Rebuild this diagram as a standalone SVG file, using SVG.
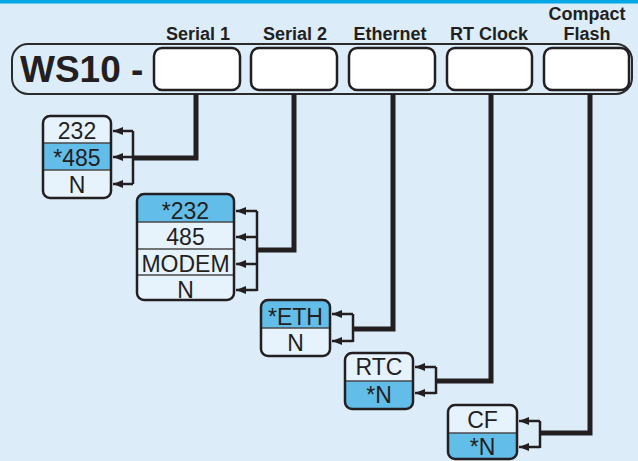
<svg xmlns="http://www.w3.org/2000/svg" width="638" height="461" viewBox="0 0 638 461">
<style>
.hdr{font-family:"Liberation Sans",Arial,sans-serif;font-weight:bold;font-size:18px;fill:#231f20;text-anchor:middle}
.opt{font-family:"Liberation Sans",Arial,sans-serif;font-size:23px;fill:#231f20;text-anchor:middle}
.slot{fill:#ffffff;stroke:#231f20;stroke-width:2.5}
.box{fill:none;stroke:#231f20;stroke-width:2.5}
.row{fill:#e6f3fc}
.hi{fill:#62bde9}
.sep{stroke:#4a4a4a;stroke-width:1.5}
.thick{fill:none;stroke:#231f20;stroke-width:5;stroke-linejoin:miter}
.thin{fill:none;stroke:#231f20;stroke-width:2.5}
</style>
<defs>
<marker id="ah" viewBox="0 0 10 8" refX="10" refY="4" markerWidth="10" markerHeight="8" markerUnits="userSpaceOnUse" orient="auto">
<path d="M0 0 L10 4 L0 8 Z" fill="#231f20"/>
</marker>
<clipPath id="c1"><rect x="43" y="116" width="68" height="82" rx="7"/></clipPath>
<clipPath id="c2"><rect x="137" y="194" width="97" height="106" rx="7"/></clipPath>
<clipPath id="c3"><rect x="261" y="300" width="69" height="56" rx="7"/></clipPath>
<clipPath id="c4"><rect x="345" y="353" width="68" height="56" rx="7"/></clipPath>
<clipPath id="c5"><rect x="448" y="405" width="69" height="54" rx="7"/></clipPath>
</defs>
<rect width="638" height="461" fill="#dcedf9"/>
<rect width="638" height="3.5" fill="#00a6e6"/>

<g id="model">
<rect x="12" y="44" width="620" height="50" rx="16" fill="#dcedf9" stroke="#2a2a2a" stroke-width="2"/>
<text x="20" y="82" font-family="'Liberation Sans',Arial,sans-serif" font-weight="bold" font-size="37" fill="#231f20">WS10 -</text>
</g>
<g id="slot-serial1">
<text class="hdr" x="198" y="40">Serial 1</text>
<rect class="slot" x="154" y="48" width="86" height="42" rx="8"/>
</g>
<g id="slot-serial2">
<text class="hdr" x="295" y="40">Serial 2</text>
<rect class="slot" x="251" y="48" width="86" height="42" rx="8"/>
</g>
<g id="slot-ethernet">
<text class="hdr" x="390" y="40">Ethernet</text>
<rect class="slot" x="349" y="48" width="86" height="42" rx="8"/>
</g>
<g id="slot-rtclock">
<text class="hdr" x="489" y="40">RT Clock</text>
<rect class="slot" x="447" y="48" width="85" height="42" rx="8"/>
</g>
<g id="slot-cf">
<text class="hdr" x="587" y="20">Compact</text>
<text class="hdr" x="587" y="40">Flash</text>
<rect class="slot" x="544" y="48" width="85" height="42" rx="8"/>
</g>

<g id="opt-serial1">
<g clip-path="url(#c1)">
<rect class="row" x="43" y="116" width="68" height="82"/>
<rect class="hi" x="43" y="143" width="68" height="27"/>
</g>
<line class="sep" x1="43" y1="143" x2="111" y2="143"/>
<line class="sep" x1="43" y1="170" x2="111" y2="170"/>
<rect class="box" x="43" y="116" width="68" height="82" rx="7"/>
<text class="opt" x="77" y="139">232</text>
<text class="opt" x="77" y="166">*485</text>
<text class="opt" x="77" y="193">N</text>
</g>
<g id="opt-serial2">
<g clip-path="url(#c2)">
<rect class="row" x="137" y="194" width="97" height="106"/>
<rect class="hi" x="137" y="194" width="97" height="28"/>
</g>
<line class="sep" x1="137" y1="222" x2="234" y2="222"/>
<line class="sep" x1="137" y1="249" x2="234" y2="249"/>
<line class="sep" x1="137" y1="275" x2="234" y2="275"/>
<rect class="box" x="137" y="194" width="97" height="106" rx="7"/>
<text class="opt" x="185.5" y="219">*232</text>
<text class="opt" x="185.5" y="245">485</text>
<text class="opt" x="185.5" y="272">MODEM</text>
<text class="opt" x="185.5" y="298">N</text>
</g>
<g id="opt-ethernet">
<g clip-path="url(#c3)">
<rect class="row" x="261" y="300" width="69" height="56"/>
<rect class="hi" x="261" y="300" width="69" height="28"/>
</g>
<line class="sep" x1="261" y1="328" x2="330" y2="328"/>
<rect class="box" x="261" y="300" width="69" height="56" rx="7"/>
<text class="opt" x="295.5" y="325">*ETH</text>
<text class="opt" x="295.5" y="351">N</text>
</g>
<g id="opt-rtclock">
<g clip-path="url(#c4)">
<rect class="row" x="345" y="353" width="68" height="56"/>
<rect class="hi" x="345" y="381" width="68" height="28"/>
</g>
<line class="sep" x1="345" y1="381" x2="413" y2="381"/>
<rect class="box" x="345" y="353" width="68" height="56" rx="7"/>
<text class="opt" x="379" y="375">RTC</text>
<text class="opt" x="379" y="403">*N</text>
</g>
<g id="opt-cf">
<g clip-path="url(#c5)">
<rect class="row" x="448" y="405" width="69" height="54"/>
<rect class="hi" x="448" y="433" width="69" height="26"/>
</g>
<line class="sep" x1="448" y1="433" x2="517" y2="433"/>
<rect class="box" x="448" y="405" width="69" height="54" rx="7"/>
<text class="opt" x="482.5" y="428">CF</text>
<text class="opt" x="482.5" y="455">*N</text>
</g>

<g id="connectors">
<path class="thick" d="M196 94 V158 H133"/>
<path class="thin" d="M133 131 V184"/>
<path class="thin" d="M133 131 H113" marker-end="url(#ah)"/>
<path class="thin" d="M133 157 H113" marker-end="url(#ah)"/>
<path class="thin" d="M133 184 H113" marker-end="url(#ah)"/>

<path class="thick" d="M294 94 V250 H257"/>
<path class="thin" d="M257 211 V291"/>
<path class="thin" d="M257 211 H236" marker-end="url(#ah)"/>
<path class="thin" d="M257 237 H236" marker-end="url(#ah)"/>
<path class="thin" d="M257 264 H236" marker-end="url(#ah)"/>
<path class="thin" d="M257 290 H236" marker-end="url(#ah)"/>

<path class="thick" d="M393 94 V329 H353"/>
<path class="thin" d="M353 314 V342"/>
<path class="thin" d="M353 314 H332" marker-end="url(#ah)"/>
<path class="thin" d="M353 341 H332" marker-end="url(#ah)"/>

<path class="thick" d="M491 94 V381 H436"/>
<path class="thin" d="M436 367 V394"/>
<path class="thin" d="M436 367 H415" marker-end="url(#ah)"/>
<path class="thin" d="M436 393 H415" marker-end="url(#ah)"/>

<path class="thick" d="M590 94 V433 H540"/>
<path class="thin" d="M540 421 V448"/>
<path class="thin" d="M540 421 H519" marker-end="url(#ah)"/>
<path class="thin" d="M540 447 H519" marker-end="url(#ah)"/>
</g>
</svg>
